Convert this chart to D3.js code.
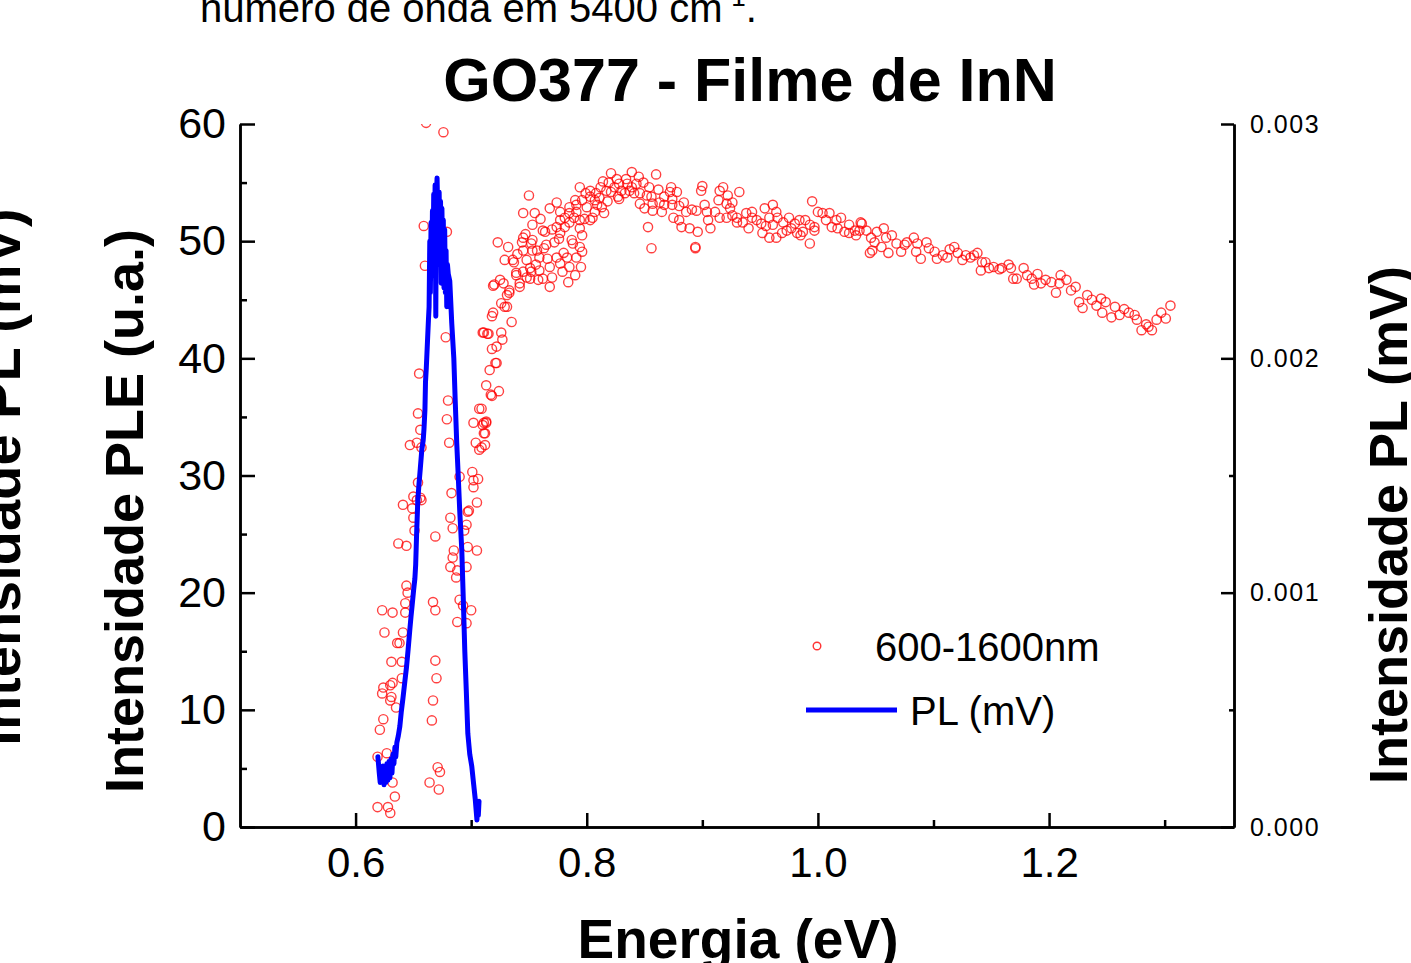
<!DOCTYPE html>
<html>
<head>
<meta charset="utf-8">
<script src="https://cdn.jsdelivr.net/npm/d3@7"></script>
<style>
  html, body { margin: 0; padding: 0; background: #fff; }
  svg { display: block; }
  text { font-family: "Liberation Sans", Arial, Helvetica, sans-serif; fill: #000; }
</style>
</head>
<body>
<svg id="chart" width="1411" height="963"></svg>
<script>
// ---------- DATA ----------
const titleText = "GO377 - Filme de InN";
const xLabel = "Energia (eV)";
const yLeftLabel = "Intensidade PLE (u.a.)";
const yRightLabel = "Intensidade PL (mV)";
const seriesNames = ["600-1600nm", "PL (mV)"];

const xMajorTicks = [0.6, 0.8, 1.0, 1.2];
const xMinorTicks = [0.7, 0.9, 1.1, 1.3];
const yLeftMajorTicks = [0, 10, 20, 30, 40, 50, 60];
const yLeftMinorTicks = [5, 15, 25, 35, 45, 55];
const yRightMajorTicks = [0, 0.001, 0.002, 0.003];
const yRightMinorTicks = [0.0005, 0.0015, 0.0025];

// PLE scatter (energy eV, intensity u.a.)
const plePoints = [
  [0.619,1.7],[0.628,1.7],[0.630,1.2],[0.634,2.6],[0.632,3.8],[0.627,6.3],[0.619,6.0],[0.621,8.3],
  [0.624,9.2],[0.635,10.2],[0.630,10.8],[0.631,11.1],[0.623,11.4],[0.624,11.9],[0.630,12.1],[0.632,12.3],
  [0.640,12.7],[0.631,14.1],[0.640,14.1],[0.636,15.7],[0.638,15.7],[0.641,16.6],[0.625,16.6],[0.643,18.3],
  [0.632,18.3],[0.623,18.5],[0.643,19.1],[0.644,20.6],[0.645,20.0],[0.637,24.2],[0.644,24.0],[0.641,27.5],
  [0.650,26.4],[0.649,27.2],[0.651,25.3],[0.653,27.9],[0.654,29.4],[0.657,27.9],[0.669,24.8],[0.667,19.2],
  [0.669,18.5],[0.669,14.2],[0.670,12.7],[0.667,10.8],[0.666,9.1],[0.671,5.1],[0.673,4.7],[0.664,3.8],
  [0.672,3.2],[0.683,28.5],[0.682,26.4],[0.684,25.5],[0.685,23.6],[0.684,23.0],[0.682,22.2],[0.688,21.9],
  [0.687,21.3],[0.690,19.4],[0.693,18.9],[0.688,17.5],[0.696,17.4],[0.700,18.5],[0.696,22.2],[0.697,23.9],
  [0.705,23.6],[0.694,25.3],[0.696,25.8],[0.697,26.9],[0.705,27.7],[0.701,30.3],[0.702,29.6],[0.706,29.7],
  [0.702,29.0],[0.707,32.2],[0.661,60.1],[0.676,59.3],[0.659,51.3],[0.679,50.8],[0.660,47.9],[0.678,41.8],
  [0.655,38.7],[0.680,36.4],[0.679,34.8],[0.654,35.3],[0.656,33.9],[0.647,32.6],[0.653,32.8],[0.657,32.4],
  [0.681,32.8],[0.650,28.2],[0.656,28.1],[0.690,29.9],[0.698,27.0],[0.707,35.7],[0.702,34.5],[0.713,34.6],
  [0.710,34.3],[0.712,33.6],[0.704,32.8],[0.709,32.4],
  [0.724,37.2],[0.717,36.9],[0.713,37.7],[0.722,39.6],[0.716,39.0],[0.718,40.8],[0.722,41.0],[0.710,42.2],
  [0.715,42.1],[0.726,42.2],[0.727,41.6],[0.719,43.9],[0.735,43.1],[0.726,44.7],[0.731,44.4],[0.731,45.4],
  [0.733,45.8],[0.720,46.3],[0.725,46.7],[0.739,47.3],[0.742,46.4],[0.748,46.9],[0.752,47.4],[0.729,48.4],
  [0.737,48.2],[0.748,48.4],[0.723,49.9],[0.732,49.5],[0.745,52.4],[0.744,49.9],[0.745,50.3],[0.753,51.4],
  [0.755,52.4],[0.750,53.9],[0.752,49.8],[0.762,50.9],[0.757,49.2],[0.759,48.6],[0.718,43.6],[0.711,42.2],
  [0.714,42.1],[0.721,39.6],[0.718,36.8],[0.709,35.7],[0.711,34.5],[0.713,34.5],[0.711,33.6],[0.712,32.6],
  [0.728,46.4],[0.719,46.2],[0.733,45.6],[0.729,44.4],[0.739,47.1],[0.742,46.1],[0.736,48.4],[0.774,53.3],
  [0.753,50.1],[0.764,50.8],[0.774,51.2],[0.765,49.7],[0.777,50.7],[0.787,50.1],[0.796,50.5],[0.794,49.5],
  [0.796,49.1],[0.791,48.6],[0.783,48.6],[0.774,48.6],[0.766,48.5],[0.753,49.2],[0.745,49.2],[0.759,47.5],
  [0.768,47.8],[0.777,48.1],[0.785,47.8],[0.790,47.1],[0.779,47.4],[0.770,46.9],[0.762,46.8],[0.758,46.7],
  [0.768,46.1],[0.751,46.8],[0.745,47.4],[0.751,47.7],[0.770,51.0],[0.781,51.2],[0.777,51.8],[0.785,52.4],
  [0.785,51.6],[0.794,51.8],[0.790,53.5],[0.791,53.1],[0.796,53.5],[0.799,54.1],[0.803,53.8],[0.807,53.5],
  [0.811,53.7],[0.809,53.1],[0.815,52.4],[0.794,54.6],[0.803,54.3],[0.808,54.1],[0.813,52.9],[0.817,54.3],
  [0.821,54.2],[0.824,54.6],[0.827,53.8],[0.830,54.3],[0.833,54.1],[0.839,54.6],[0.841,54.1],[0.800,52.9],
  [0.807,52.5],[0.803,51.8],[0.791,52.5],[0.785,52.9],[0.789,52.0],[0.794,51.1],[0.781,52.0],[0.777,52.5],
  [0.814,55.1],[0.821,55.8],[0.819,55.0],[0.826,55.3],[0.828,54.9],[0.828,53.6],[0.839,55.9],[0.835,54.9],
  [0.837,54.3],[0.843,54.9],[0.849,55.0],[0.846,54.1],[0.852,53.9],[0.856,53.8],[0.860,55.7],[0.854,54.6],
  [0.867,53.8],[0.857,53.2],[0.863,53.3],[0.867,53.1],[0.846,53.2],[0.850,52.8],[0.857,52.6],[0.865,52.5],
  [0.873,54.6],[0.872,54.2],[0.878,54.2],[0.874,53.6],[0.884,53.3],[0.874,53.1],[0.875,52.0],[0.880,51.8],
  [0.886,52.5],[0.891,52.7],[0.895,52.6],[0.882,51.2],[0.889,51.1],[0.896,50.8],[0.894,49.4],[0.894,49.5],
  [0.853,51.2],[0.856,49.4],[0.900,54.7],[0.899,54.3],[0.902,53.1],[0.904,52.5],[0.907,51.1],[0.911,52.5],
  [0.914,53.5],[0.915,54.3],[0.918,54.6],[0.922,53.9],[0.926,53.3],[0.921,53.2],[0.924,52.8],[0.915,52.0],
  [0.921,52.0],[0.926,52.2],[0.932,54.2],[0.930,52.0],[0.930,51.6],[0.935,51.6],[0.938,52.4],[0.943,52.5],
  [0.943,52.0],[0.947,51.8],[0.951,51.5],[0.954,52.8],[0.961,53.1],[0.958,52.0],[0.964,52.5],[0.965,52.0],
  [0.961,51.4],[0.952,50.7],[0.958,50.3],[0.964,50.3],[0.969,50.7],[0.973,50.9],[0.977,51.1],[0.975,52.0],
  [0.980,51.5],[0.984,51.8],[0.989,51.8],[0.993,51.4],[0.997,51.2],[0.987,50.8],[0.982,50.7],[0.993,49.8],
  [0.997,50.9],[0.995,53.4],[1.000,52.5],[1.004,52.4],[1.010,52.4],[1.007,51.8],[1.012,51.2],[1.016,51.8],
  [1.017,51.1],[1.020,52.0],[1.023,50.8],[1.027,50.7],[1.033,50.5],[1.037,51.6],[1.036,50.9],[1.042,50.9],
  [1.046,50.3],[1.049,49.9],[1.051,50.8],[1.047,49.2],[1.045,49.0],[1.027,51.4],[1.032,50.9],[1.038,51.5],
  [1.055,49.5],[1.057,51.1],[1.059,50.3],[1.061,49.0],[1.064,50.5],[1.068,49.8],[1.072,49.1],[1.075,49.7],
  [1.077,49.9],[1.083,50.3],[1.086,49.8],[1.089,48.5],[1.085,49.1],[1.094,49.9],[1.096,49.4],[1.101,49.1],
  [1.103,48.5],[1.108,48.8],[1.112,48.6],[1.114,49.3],[1.118,49.5],[1.121,49.0],[1.125,48.4],[1.128,48.8],
  [1.132,48.6],[1.135,48.8],[1.138,49.0],[1.141,47.5],[1.142,48.2],[1.145,48.2],[1.148,47.7],[1.152,47.8],
  [1.157,47.6],[1.159,47.7],[1.165,48.0],[1.167,47.7],[1.169,46.8],[1.172,46.8],[1.178,47.7],[1.181,47.1],
  [1.185,46.8],[1.187,46.3],[1.190,47.2],[1.193,46.4],[1.197,46.7],[1.202,46.5],[1.206,45.6],[1.209,46.4],
  [1.210,47.1],[1.215,46.7],[1.219,45.8],[1.223,46.1],[1.226,44.8],[1.229,44.3],[1.233,45.4],[1.237,45.0],
  [1.241,44.5],[1.245,45.1],[1.246,43.9],[1.249,44.8],[1.254,43.5],[1.257,44.4],[1.261,43.7],[1.265,44.2],
  [1.269,43.9],[1.274,43.7],[1.276,43.3],[1.280,42.4],[1.284,42.9],[1.286,42.7],[1.289,42.4],[1.293,43.3],
  [1.297,43.9],[1.301,43.4],[1.305,44.5],
  [0.740,48.9],[0.747,50.6],[0.756,48.0],[0.763,49.4],[0.772,49.9],[0.780,49.0],[0.788,49.8],[0.798,51.9],
  [0.805,52.0],[0.760,51.9],[0.768,52.8],[0.776,50.2],[0.784,46.5],[0.795,47.8],[0.812,54.6],[0.818,53.4],
  [0.834,55.3],[0.845,55.5],[0.862,54.4],[0.880,53.0],[0.905,51.8],[0.940,51.1],[0.955,51.3],[0.970,51.6],
  [0.985,50.5]
];

// PL line (energy eV, mV) -> right axis
const plEnergy = [
  0.6193,0.6205,0.6213,0.6222,0.6230,0.6238,0.6246,0.6255,0.6263,0.6271,0.6280,0.6289,0.6297,0.6306,
  0.6315,0.6323,0.6332,0.6340,0.6348,0.6357,0.6370,0.6383,0.6395,0.6410,0.6426,0.6440,0.6455,0.6469,
  0.6480,0.6490,0.6502,0.6513,0.6520,0.6528,0.6538,0.6548,0.6560,0.6573,0.6585,0.6592,0.6600,0.6605,
  0.6612,0.6620,0.6630,0.6636,0.6642,0.6647,0.6653,0.6659,0.6665,0.6670,0.6676,0.6682,0.6688,0.6694,
  0.6699,0.6705,0.6711,0.6717,0.6723,0.6729,0.6735,0.6741,0.6747,0.6753,0.6759,0.6765,0.6771,0.6777,
  0.6783,0.6789,0.6795,0.6802,0.6815,0.6832,0.6850,0.6862,0.6875,0.6888,0.6901,0.6919,0.6932,0.6945,
  0.6958,0.6971,0.6988,0.7005,0.7022,0.7035,0.7045,0.7050,0.7055,0.7062,0.7068
];
const plValue = [
  0.00030,0.00023,0.00019,0.00024,0.00019,0.00026,0.00018,0.00025,0.00019,0.00027,0.00020,0.00028,0.00021,0.00029,
  0.00023,0.00031,0.00027,0.00034,0.00030,0.00036,0.00039,0.00043,0.00049,0.00055,0.00062,0.00068,0.00076,0.00084,
  0.00090,0.00095,0.00101,0.00106,0.00112,0.00125,0.00139,0.00146,0.00153,0.00161,0.00165,0.00170,0.00178,0.00190,
  0.00196,0.00205,0.00216,0.00222,0.00250,0.00228,0.00258,0.00235,0.00263,0.00240,0.00270,0.00246,0.00274,0.00218,
  0.00268,0.00277,0.00262,0.00240,0.00271,0.00250,0.00267,0.00232,0.00264,0.00242,0.00259,0.00230,0.00255,0.00228,
  0.00246,0.00222,0.00240,0.00236,0.00233,0.00215,0.00200,0.00182,0.00164,0.00150,0.00135,0.00118,0.00097,0.00075,
  0.00058,0.00040,0.00031,0.00026,0.00018,0.00012,0.00006,0.00003,0.00009,0.00005,0.00011
];

// ---------- CHART ----------
const svg = d3.select("#chart");
const plot = { left: 240, right: 1234, top: 124, bottom: 827 };

const x = d3.scaleLinear().domain([0.5, 1.36]).range([plot.left, plot.right]);
const yL = d3.scaleLinear().domain([0, 60]).range([plot.bottom, plot.top]);
const yR = d3.scaleLinear().domain([0, 0.003]).range([plot.bottom, plot.top]);

svg.append("defs").append("clipPath").attr("id", "clip")
  .append("rect").attr("x", plot.left).attr("y", plot.top)
  .attr("width", plot.right - plot.left).attr("height", plot.bottom - plot.top);

// Top text from document (partially cut, as in the source)
const topT = svg.append("text").attr("x", 200).attr("y", 22)
  .attr("font-size", 40).text("número de onda em 5400 cm");
topT.append("tspan").attr("font-size", 26).attr("dy", -16).text("-1");
topT.append("tspan").attr("dy", 16).text(".");

// Cut-off left label from neighbouring figure
svg.append("text")
  .attr("transform", `translate(20,477) rotate(-90)`)
  .attr("text-anchor", "middle").attr("font-size", 56).attr("font-weight", "bold")
  .text("Intensidade PL (mV)");

// Title
svg.append("text").attr("x", 750).attr("y", 101).attr("text-anchor", "middle")
  .attr("font-size", 61).attr("font-weight", "bold").text(titleText);

// Data layers
const g = svg.append("g").attr("clip-path", "url(#clip)");
g.selectAll("circle.ple").data(plePoints).enter().append("circle")
  .attr("class", "ple")
  .attr("cx", d => x(d[0])).attr("cy", d => yL(d[1])).attr("r", 4.6)
  .attr("fill", "none").attr("stroke", "#ff0000").attr("stroke-opacity", 0.75).attr("stroke-width", 1.4);

const plData = plEnergy.map((e, i) => [e, plValue[i]]);
const line = d3.line().x(d => x(d[0])).y(d => yR(d[1]));
g.append("path").datum(plData).attr("d", line)
  .attr("fill", "none").attr("stroke", "#0000ff").attr("stroke-width", 5)
  .attr("stroke-linejoin", "round").attr("stroke-linecap", "round");

// Axes
function styleAxis(sel, fs) {
  sel.selectAll("path.domain").attr("stroke", "#000").attr("stroke-width", 2.5);
  sel.selectAll(".tick line").attr("stroke", "#000").attr("stroke-width", 2.5);
  sel.selectAll(".tick text").attr("font-size", fs)
    .attr("font-family", '"Liberation Sans", Arial, sans-serif').attr("fill", "#000");
}

const xAxis = svg.append("g").attr("transform", `translate(0,${plot.bottom})`)
  .call(d3.axisBottom(x).tickValues(xMajorTicks).tickFormat(d3.format(".1f"))
    .tickSize(-14).tickSizeOuter(0).tickPadding(20));
styleAxis(xAxis, 42);
const xMinor = svg.append("g").attr("transform", `translate(0,${plot.bottom})`)
  .call(d3.axisBottom(x).tickValues(xMinorTicks).tickFormat("").tickSize(-7).tickSizeOuter(0));
styleAxis(xMinor, 42);

const yAxisL = svg.append("g").attr("transform", `translate(${plot.left},0)`)
  .call(d3.axisLeft(yL).tickValues(yLeftMajorTicks).tickFormat(d3.format("d"))
    .tickSize(-15).tickSizeOuter(0).tickPadding(14));
styleAxis(yAxisL, 43);
const yMinorL = svg.append("g").attr("transform", `translate(${plot.left},0)`)
  .call(d3.axisLeft(yL).tickValues(yLeftMinorTicks).tickFormat("").tickSize(-7).tickSizeOuter(0));
styleAxis(yMinorL, 42);

const yAxisR = svg.append("g").attr("transform", `translate(${plot.right},0)`)
  .call(d3.axisRight(yR).tickValues(yRightMajorTicks).tickFormat(d3.format(".3f"))
    .tickSize(-13).tickSizeOuter(0).tickPadding(16));
styleAxis(yAxisR, 25);
yAxisR.selectAll(".tick text").attr("letter-spacing", 1.5);
const yMinorR = svg.append("g").attr("transform", `translate(${plot.right},0)`)
  .call(d3.axisRight(yR).tickValues(yRightMinorTicks).tickFormat("").tickSize(-5).tickSizeOuter(0));
styleAxis(yMinorR, 25);

// Axis titles
svg.append("text").attr("x", 738).attr("y", 958).attr("text-anchor", "middle")
  .attr("font-size", 55).attr("font-weight", "bold").text(xLabel);
svg.append("text").attr("transform", `translate(143,511) rotate(-90)`)
  .attr("text-anchor", "middle").attr("font-size", 54).attr("font-weight", "bold").text(yLeftLabel);
svg.append("text").attr("transform", `translate(1407,525) rotate(-90)`)
  .attr("text-anchor", "middle").attr("font-size", 54).attr("font-weight", "bold").text(yRightLabel);

// Legend
const leg = svg.append("g");
leg.append("circle").attr("cx", 817).attr("cy", 646).attr("r", 3.8)
  .attr("fill", "none").attr("stroke", "#ff0000").attr("stroke-opacity", 0.8).attr("stroke-width", 1.4);
leg.append("text").attr("x", 875).attr("y", 661).attr("font-size", 40).text(seriesNames[0]);
leg.append("line").attr("x1", 806).attr("x2", 897).attr("y1", 710).attr("y2", 710)
  .attr("stroke", "#0000ff").attr("stroke-width", 5);
leg.append("text").attr("x", 910).attr("y", 725).attr("font-size", 40).text(seriesNames[1]);
</script>
</body>
</html>
